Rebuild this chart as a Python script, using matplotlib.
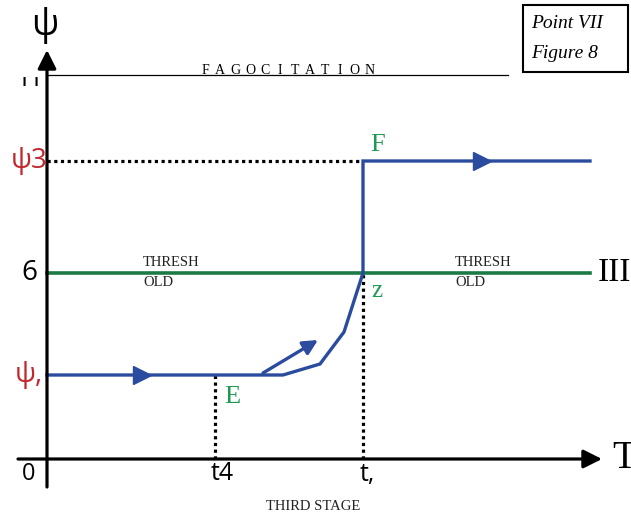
import matplotlib
matplotlib.use("Agg")
import matplotlib.pyplot as plt
from matplotlib.patches import Rectangle
from matplotlib.transforms import Bbox, TransformedBbox

# ---- data (diagram coordinates: time on x, psi on y) ----
t_path = [0, 236, 273, 297, 316, 316, 543]
psi_path = [84, 84, 95, 127, 186, 298, 298]
branch_t = [216, 271]
branch_psi = [86, 119]
t4, t1 = 168, 316
psi1, psi_thr, psi3, psi_fag = 84, 186, 298, 384
t_end, t_fag_end = 543, 461
arrow_marks_t = [95, 435]
arrow_marks_psi = [psi1, psi3]
y_labels = ["ψ3", "6", "ψ,"]
y_label_vals = [psi3, psi_thr, psi1]
y_label_colors = ["#c1272d", "black", "#c1272d"]
x_labels = ["0", "t4", "t,"]
x_label_vals = [-18, 175, 320]
fag_text = "FAGOCITATION"

BLUE = "#2b4c9e"
GREEN_LINE = "#1c7a45"
GREEN_TXT = "#1d9a52"
SANS = ["Open Sans", "DejaVu Sans"]
SERIF = ["Liberation Serif", "DejaVu Serif"]

fig = plt.figure(figsize=(6.31, 5.17), dpi=100)
ax = fig.add_axes([0, 0, 1, 1])
ax.set_xlim(-47, 584)
ax.set_ylim(-58, 459)
ax.axis("off")

# axes with arrows
ax.annotate("", xy=(0, 409), xytext=(0, -28),
            arrowprops=dict(arrowstyle="-|>", lw=2.3, color="black", mutation_scale=28, shrinkA=0, shrinkB=0))
ax.annotate("", xy=(555, 0), xytext=(-29, 0),
            arrowprops=dict(arrowstyle="-|>", lw=2.3, color="black", mutation_scale=28, shrinkA=0, shrinkB=0))

# fagocitation line
ax.plot([0, t_fag_end], [psi_fag, psi_fag], color="black", lw=0.9)
n = len(fag_text)
for i, ch in enumerate(fag_text):
    ax.text(158 + i * 170 / (n - 1) * 0.97, psi_fag + 5, ch, family=SERIF, fontsize=10,
            ha="center", va="center")

# threshold line
ax.plot([0, t_end], [psi_thr, psi_thr], color=GREEN_LINE, lw=2.6)
for tx in [96, 408]:
    ax.text(tx, psi_thr + 11, "THRESH", family=SERIF, fontsize=10.5, ha="left", va="center", color="#222222")
    ax.text(tx, psi_thr - 9, "OLD", family=SERIF, fontsize=10.5, ha="left", va="center", color="#222222")

# dotted lines
dot = dict(color="black", lw=2.3, linestyle=(0, (1, 1.1)))
ax.plot([0, t1], [psi3, psi3], **dot)
ax.plot([t1, t1], [0, psi_thr], **dot)
ax.plot([t4, t4], [0, psi1], **dot)

# blue path
ax.plot(t_path, psi_path, color=BLUE, lw=2.4, solid_joinstyle="miter")
ax.plot(arrow_marks_t, arrow_marks_psi, linestyle="none", marker=">", markersize=13, color=BLUE)
ax.annotate("", xy=(branch_t[1], branch_psi[1]), xytext=(branch_t[0], branch_psi[0]),
            arrowprops=dict(arrowstyle="-|>", lw=2.4, color=BLUE, mutation_scale=22, shrinkA=0, shrinkB=0))

# labels on y
for lab, v, c in zip(y_labels, y_label_vals, y_label_colors):
    ax.text(-18, v, lab, family=SANS, fontsize=20, color=c, ha="center", va="center")
for lab, v in zip(x_labels, x_label_vals):
    ax.text(v, -15, lab, family=SANS, fontsize=17 if lab == "0" else 18, ha="center", va="center")

ax.text(-2, 434, "ψ", family=SANS, fontsize=26, ha="center", va="center")
clipbox = TransformedBbox(Bbox([[-47, -60], [53, 382]]), ax.transData)
for xi in [-23, -11]:
    t = ax.text(xi, 373, "I", family=SANS, fontsize=18, ha="center", va="baseline", clip_on=True)
    t.set_clip_path(None)
    t.set_clip_box(clipbox)

ax.text(577, 1, "T", family=SERIF, fontsize=28, ha="center", va="center")
ax.text(567, psi_thr, "III", family=SERIF, fontsize=24, ha="center", va="center")
ax.text(331, 314, "F", family=SERIF, fontsize=19, color=GREEN_TXT, ha="center", va="center")
ax.text(330, 168, "z", family=SERIF, fontsize=18, color=GREEN_TXT, ha="center", va="center")
ax.text(185, 62, "E", family=SERIF, fontsize=19, color=GREEN_TXT, ha="center", va="center")
ax.text(266, -47, "THIRD STAGE", family=SERIF, fontsize=10.5, ha="center", va="center", color="#222222")

# box
ax.add_patch(Rectangle((476, 387), 105, 67, fill=False, edgecolor="black", lw=1.5))
ax.text(484, 435, "Point VII", family=SERIF, style="italic", fontsize=14, ha="left", va="center")
ax.text(484, 405, "Figure 8", family=SERIF, style="italic", fontsize=14, ha="left", va="center")

fig.savefig("out.png", dpi=100)
